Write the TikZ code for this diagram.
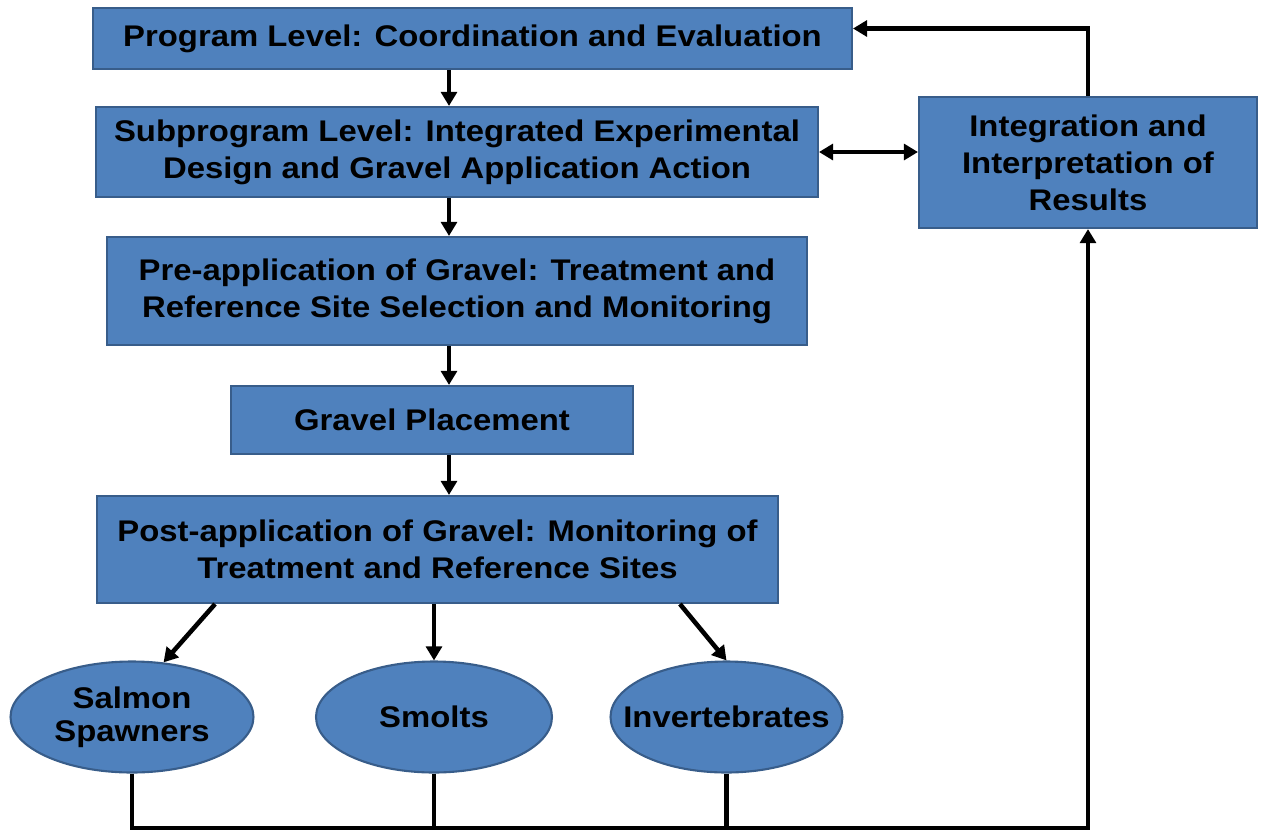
\documentclass[tikz,border=0pt]{standalone}
\usepackage{fontspec}
\setmainfont{Liberation Sans}[FakeStretch=1.1]
\usetikzlibrary{arrows.meta, shapes.geometric, positioning}
\definecolor{boxblue}{HTML}{4F81BD}
\definecolor{boxedge}{HTML}{385D8A}

\begin{document}
\begin{tikzpicture}[x=0.02cm, y=-0.02cm,
        box/.style={rectangle, fill=boxblue, draw=boxedge, line width=1.2pt, inner sep=0pt, align=center, font=\fontsize{17}{21}\selectfont\bfseries},
        oval/.style={ellipse, fill=boxblue, draw=boxedge, line width=1.2pt, inner sep=0pt, minimum height=2.22cm},
        ovaltext/.style={align=center, font=\fontsize{17}{19}\selectfont\bfseries},
        arr/.style={line width=2.6pt, -{Triangle[length=8pt, width=9pt]}},
        biarr/.style={line width=2.6pt, {Triangle[length=8pt, width=9pt]}-{Triangle[length=8pt, width=9pt]}}]
                        \useasboundingbox (0, 0) rectangle (1262, 833);

                        \node[box, minimum width=15.18cm, minimum height=1.22cm] (prog) at (472.5, 38.5) {Program Level: Coordination and Evaluation};
                        \node[box, minimum width=14.44cm, minimum height=1.8cm] (sub) at (457, 152) {Subprogram Level: Integrated Experimental\\Design and Gravel Application Action};
                        \node[box, minimum width=6.76cm, minimum height=2.62cm] (integ) at (1088, 162.5) {Integration and\\Interpretation of\\Results};
                        \node[box, minimum width=14cm, minimum height=2.16cm] (pre) at (457, 291) {Pre-application of Gravel: Treatment and\\Reference Site Selection and Monitoring};
                        \node[box, minimum width=8.04cm, minimum height=1.36cm] (place) at (432, 420) {Gravel Placement};
                        \node[box, minimum width=13.62cm, minimum height=2.14cm] (post) at (437.5, 549.5) {Post-application of Gravel: Monitoring of\\Treatment and Reference Sites};

                        \node[oval, minimum width=4.86cm, label={[ovaltext]center:Salmon\\Spawners}] (salmon) at (132, 717) {};
                        \node[oval, minimum width=4.72cm, label={[ovaltext]center:Smolts}] (smolts) at (434, 717) {};
                        \node[oval, minimum width=4.64cm, label={[ovaltext]center:Invertebrates}] (invert) at (726.5, 717) {};

                        \coordinate (spine) at (449, 0);
                        \coordinate (bus) at (1088, 828);

                        \draw[arr] (prog.south -| spine) -- (sub.north -| spine);
                        \draw[arr] (sub.south -| spine) -- (pre.north -| spine);
                        \draw[arr] (pre.south -| spine) -- (place.north -| spine);
                        \draw[arr] (place.south -| spine) -- (post.north -| spine);

                        \draw[arr] ([xshift=-4.45cm]post.south) -- (salmon.60);
                        \draw[arr] (smolts.north |- post.south) -- (smolts.north);
                        \draw[arr] ([xshift=4.85cm]post.south) -- (invert.north);

                        \draw[biarr] (sub.east) -- (sub.east -| integ.west);
                        \draw[arr] (integ.north) |- ([yshift=0.2cm]prog.east);

                        \draw[arr] (salmon.south) |- (bus) -- (integ.south);
                        \draw[line width=2.6pt]
                        (smolts.south) -- (smolts.south |- bus)
                        (invert.south) -- (invert.south |- bus);
                    \end{tikzpicture}
\end{document}
